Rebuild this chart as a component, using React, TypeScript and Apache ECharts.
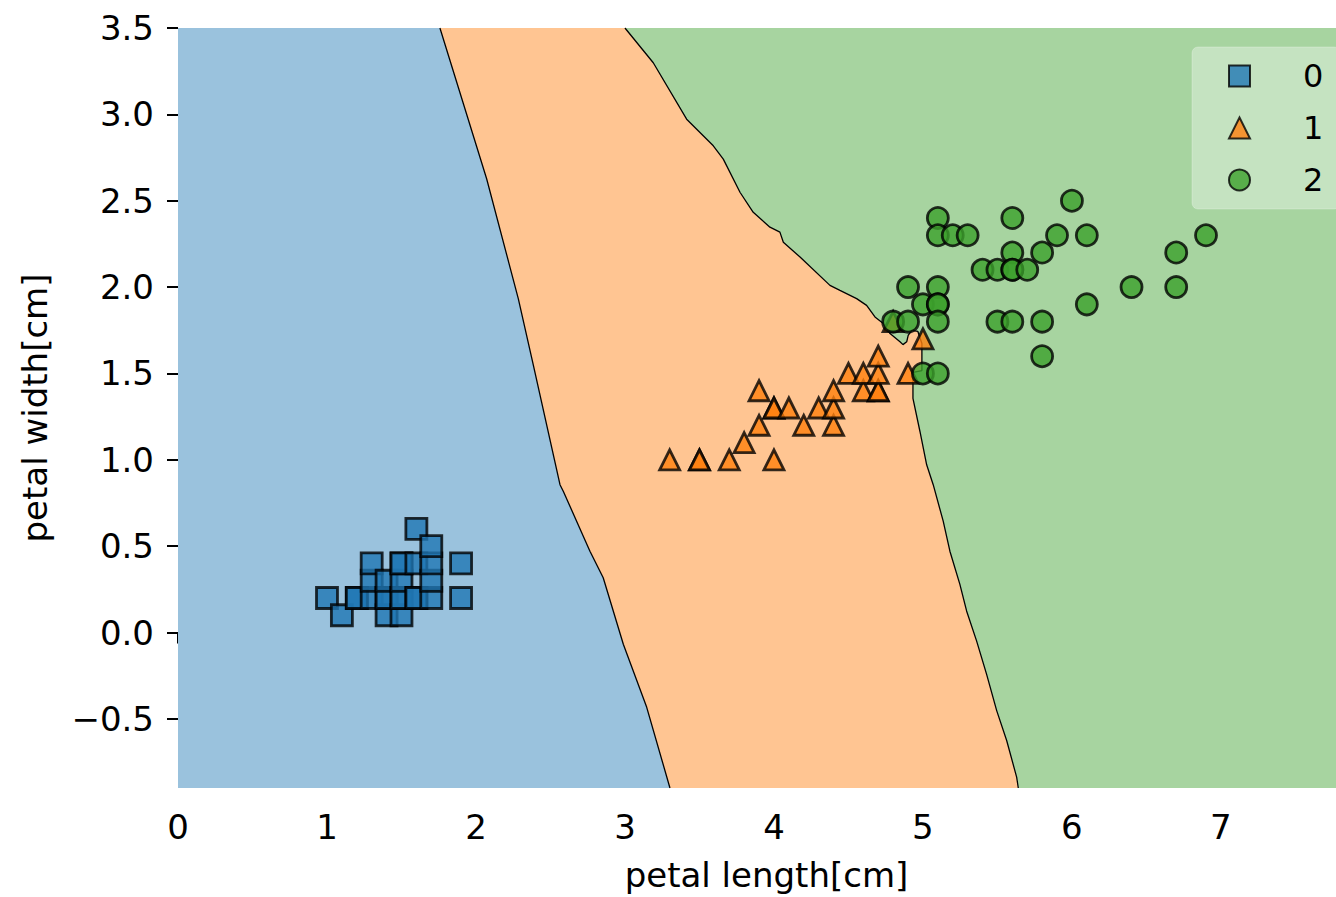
import React, { useEffect, useRef } from "react";
import * as echarts from "echarts";

const FONT = "DejaVu Sans";

const xTicks = [0, 1, 2, 3, 4, 5, 6, 7];
const yTicks = [-0.5, 0, 0.5, 1, 1.5, 2, 2.5, 3, 3.5];
const xMin = 0;
const xMax = 7.9;
const yMin = -0.9;
const yMax = 3.5;

const classNames = ["0", "1", "2"];
const markerColors = ["#1f77b4", "#ff7f0e", "#3ca02c"];
const regionColors = ["#9AC2DD", "#FFC592", "#A7D4A0"];

const class0 = [
  [1.0, 0.2], [1.1, 0.1], [1.2, 0.2], [1.2, 0.2], [1.3, 0.2], [1.3, 0.3], [1.3, 0.4],
  [1.4, 0.1], [1.4, 0.2], [1.4, 0.2], [1.4, 0.3], [1.5, 0.1], [1.5, 0.2], [1.5, 0.2],
  [1.5, 0.3], [1.5, 0.4], [1.5, 0.4], [1.6, 0.2], [1.6, 0.2], [1.6, 0.4], [1.6, 0.6],
  [1.7, 0.2], [1.7, 0.3], [1.7, 0.4], [1.7, 0.5], [1.9, 0.2], [1.9, 0.4],
];

const class1 = [
  [3.3, 1.0], [3.5, 1.0], [3.5, 1.0], [3.7, 1.0], [4.0, 1.0], [3.8, 1.1], [3.9, 1.2],
  [4.2, 1.2], [4.4, 1.2], [4.0, 1.3], [4.0, 1.3], [4.1, 1.3], [4.3, 1.3], [4.4, 1.3],
  [3.9, 1.4], [4.4, 1.4], [4.6, 1.4], [4.7, 1.4], [4.7, 1.4], [4.5, 1.5], [4.6, 1.5],
  [4.7, 1.5], [4.9, 1.5], [4.7, 1.6], [5.0, 1.7], [4.8, 1.8],
];

const class2 = [
  [6.0, 2.5], [5.1, 2.4], [5.6, 2.4], [5.1, 2.3], [5.2, 2.3], [5.3, 2.3], [5.9, 2.3],
  [6.1, 2.3], [6.9, 2.3], [5.6, 2.2], [5.8, 2.2], [6.7, 2.2], [5.4, 2.1], [5.5, 2.1],
  [5.6, 2.1], [5.6, 2.1], [5.7, 2.1], [4.9, 2.0], [5.1, 2.0], [6.4, 2.0], [6.7, 2.0],
  [5.0, 1.9], [5.1, 1.9], [5.1, 1.9], [6.1, 1.9], [4.8, 1.8], [4.9, 1.8], [5.1, 1.8],
  [5.5, 1.8], [5.6, 1.8], [5.8, 1.8], [5.8, 1.6], [5.0, 1.5], [5.1, 1.5],
];

// decision boundary between class 0 and class 1 (top to bottom)
const boundaryA = [
  [1.758, 3.5], [2.072, 2.626], [2.284, 1.933], [2.385, 1.548], [2.564, 0.856],
  [2.586, 0.818], [2.765, 0.471], [2.854, 0.317], [2.989, -0.068], [3.146, -0.433],
  [3.302, -0.9],
];

// decision boundary between class 1 and class 2 (top to bottom)
const boundaryB = [
  [3.0, 3.5], [3.19, 3.299], [3.414, 2.972], [3.593, 2.818], [3.66, 2.741], [3.772, 2.549],
  [3.861, 2.433], [3.973, 2.347], [4.04, 2.318], [4.063, 2.26], [4.175, 2.174],
  [4.376, 2.01], [4.443, 1.981], [4.555, 1.933], [4.622, 1.894], [4.678, 1.827],
  [4.734, 1.789], [4.779, 1.731], [4.846, 1.683], [4.866, 1.667], [4.891, 1.683],
  [4.901, 1.721], [4.924, 1.75], [4.966, 1.743], [4.993, 1.673], [4.993, 1.517],
  [4.933, 1.506], [4.933, 1.356], [4.98, 1.164], [5.025, 0.971], [5.069, 0.856],
  [5.136, 0.645], [5.181, 0.471], [5.248, 0.279], [5.293, 0.125], [5.36, -0.048],
  [5.427, -0.241], [5.495, -0.452], [5.562, -0.625], [5.629, -0.837], [5.64, -0.9],
];

const regions = [
  [[xMin, yMax], ...boundaryA, [xMin, yMin]],
  [...boundaryA, ...boundaryB.slice().reverse()],
  [...boundaryB, [xMax, yMin], [xMax, yMax]],
];

const fmtY = (v: number) =>
  v < 0 ? "\u2212" + Math.abs(v).toFixed(1) : v.toFixed(1);

export default function App() {
  const ref = useRef<HTMLDivElement>(null);
  useEffect(() => {
    const chart = echarts.init(ref.current!, null, { renderer: "svg" });
    const scatterSeries = [class0, class1, class2].map((d, i) => ({
      type: "scatter",
      name: classNames[i],
      data: d,
      symbol: ["rect", "triangle", "circle"][i],
      symbolSize: [21, 20, 21][i],
      itemStyle: {
        color: markerColors[i],
        borderColor: "#000",
        borderWidth: 2.8,
        opacity: 0.8,
      },
      z: 3,
      silent: true,
    }));
    chart.setOption({
      animation: false,
      backgroundColor: "#fff",
      grid: { left: 178, right: 0, top: 28, bottom: 106, containLabel: false },
      xAxis: {
        type: "value",
        min: xMin,
        max: xMax,
        name: "petal length[cm]",
        nameLocation: "middle",
        nameGap: 70,
        nameTextStyle: { fontFamily: FONT, fontSize: 34, color: "#000" },
        axisLine: { show: false },
        axisTick: {
          show: true,
          customValues: xTicks,
          length: 11,
          lineStyle: { color: "#000", width: 2 },
        },
        axisLabel: {
          customValues: xTicks,
          margin: 22,
          fontFamily: FONT,
          fontSize: 34,
          color: "#000",
          formatter: (v: number) => String(v),
        },
        splitLine: { show: false },
      },
      yAxis: {
        type: "value",
        min: yMin,
        max: yMax,
        name: "petal width[cm]",
        nameLocation: "middle",
        nameGap: 126,
        nameTextStyle: { fontFamily: FONT, fontSize: 34, color: "#000" },
        axisLine: { show: false },
        axisTick: {
          show: true,
          customValues: yTicks,
          length: 11,
          lineStyle: { color: "#000", width: 2 },
        },
        axisLabel: {
          customValues: yTicks,
          margin: 24,
          fontFamily: FONT,
          fontSize: 34,
          color: "#000",
          formatter: fmtY,
        },
        splitLine: { show: false },
      },
      legend: {
        data: classNames,
        orient: "vertical",
        left: 1192,
        top: 47,
        padding: [12, 17, 12, 36],
        itemWidth: 21,
        itemHeight: 21,
        itemGap: 18,
        backgroundColor: "rgba(255,255,255,0.35)",
        borderColor: "rgba(255,255,255,0.25)",
        borderWidth: 1,
        borderRadius: 6,
        selectedMode: false,
        textStyle: {
          fontFamily: FONT,
          fontSize: 32,
          color: "#000",
          lineHeight: 34,
          padding: [0, 0, 0, 48],
        },
      },
      series: [
        {
          type: "custom",
          name: "regions",
          coordinateSystem: "cartesian2d",
          data: regions.map((_, i) => [0, 0, i]),
          encode: { x: 0, y: 1 },
          silent: true,
          clip: true,
          z: 1,
          renderItem: (params: any, api: any) => ({
            type: "polygon",
            shape: { points: regions[params.dataIndex].map((p) => api.coord(p)) },
            style: { fill: regionColors[params.dataIndex] },
          }),
        },
        ...[boundaryA, boundaryB].map((b, i) => ({
          type: "line",
          name: "boundary" + i,
          data: b,
          symbol: "none",
          showSymbol: false,
          silent: true,
          lineStyle: { color: "#000", width: 1.3 },
          z: 2,
        })),
        ...scatterSeries,
      ],
    });
    return () => chart.dispose();
  }, []);
  return (
    <div
      style={{
        position: "absolute",
        left: 0,
        top: 0,
        width: 1336,
        height: 897,
        overflow: "hidden",
        background: "#fff",
      }}
    >
      <div ref={ref} style={{ width: 1355, height: 897 }} />
    </div>
  );
}
